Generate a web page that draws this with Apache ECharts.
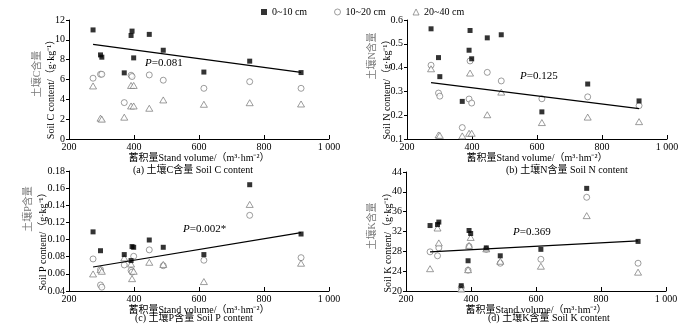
<!DOCTYPE html>
<html>
<head>
<meta charset="utf-8">
<script src="https://cdn.jsdelivr.net/npm/echarts@6.0.0/dist/echarts.min.js"></script>
<style>
  html, body { margin: 0; padding: 0; background: #fff; }
  #chart { width: 700px; height: 326px; }
</style>
</head>
<body>
<div id="chart"></div>
<script>
// 图例 / 土层
const layers = ['0~10 cm', '10~20 cm', '20~40 cm'];
const xTicks = [200, 400, 600, 800, 1000];

// (a) 土壤C  [蓄积量, 含量]
const cTop = [[274, 11.0], [297, 8.48], [301, 8.25], [370, 6.67], [391, 10.44], [394, 10.88], [399, 8.18], [447, 10.55], [490, 8.95], [615, 6.75], [756, 7.85], [914, 6.7]];
const cMid = [[274, 6.13], [297, 6.53], [301, 6.53], [370, 3.67], [391, 6.43], [394, 6.3], [447, 6.46], [490, 5.93], [615, 5.11], [756, 5.78], [914, 5.11]];
const cDeep = [[274, 5.35], [297, 2.1], [301, 2.0], [370, 2.2], [391, 5.4], [399, 5.4], [391, 3.33], [399, 3.33], [447, 3.1], [490, 3.94], [615, 3.5], [756, 3.66], [914, 3.53]];
const cFit = [[274, 9.55], [914, 6.72]];

// (b) 土壤N
const nTop = [[274, 0.563], [297, 0.442], [301, 0.362], [370, 0.258], [391, 0.473], [394, 0.556], [399, 0.437], [447, 0.525], [490, 0.538], [615, 0.214], [756, 0.331], [914, 0.26]];
const nMid = [[274, 0.41], [297, 0.293], [301, 0.28], [370, 0.148], [391, 0.268], [394, 0.428], [399, 0.251], [447, 0.38], [490, 0.344], [615, 0.269], [756, 0.277], [914, 0.24]];
const nDeep = [[274, 0.395], [297, 0.117], [301, 0.115], [370, 0.113], [391, 0.124], [394, 0.377], [399, 0.124], [447, 0.202], [490, 0.297], [615, 0.169], [756, 0.192], [914, 0.173]];
const nFit = [[274, 0.337], [914, 0.228]];

// (c) 土壤P
const pTop = [[274, 0.109], [297, 0.087], [370, 0.0825], [391, 0.0755], [394, 0.0918], [399, 0.091], [447, 0.0995], [490, 0.091], [615, 0.0825], [756, 0.164], [914, 0.1065]];
const pMid = [[274, 0.0774], [297, 0.047], [301, 0.0445], [297, 0.065], [370, 0.0704], [391, 0.064], [394, 0.062], [399, 0.0805], [447, 0.088], [490, 0.0695], [615, 0.0759], [756, 0.1283], [914, 0.0789]];
const pDeep = [[274, 0.0599], [297, 0.0649], [301, 0.063], [370, 0.0786], [391, 0.0715], [394, 0.0544], [399, 0.063], [447, 0.0735], [490, 0.071], [615, 0.051], [756, 0.141], [914, 0.0724]];
const pFit = [[274, 0.068], [914, 0.108]];

// (d) 土壤K
const kTop = [[274, 33.2], [297, 33.4], [301, 33.9], [370, 21.07], [391, 26.1], [394, 32.2], [399, 31.6], [447, 28.7], [490, 27.1], [615, 28.4], [756, 40.7], [914, 30.0]];
const kMid = [[274, 27.9], [297, 27.1], [301, 28.7], [370, 20.7], [391, 24.2], [394, 29.0], [447, 28.4], [490, 25.6], [615, 26.4], [756, 38.9], [914, 25.6]];
const kDeep = [[274, 24.5], [297, 32.7], [301, 29.7], [370, 20.4], [391, 24.3], [394, 29.2], [399, 30.8], [447, 28.5], [490, 26.0], [615, 25.0], [756, 35.2], [914, 23.8]];
const kFit = [[274, 27.9], [914, 30.1]];

const serif = '"Liberation Serif", "Noto Sans CJK SC", serif';
const font10 = '10px ' + serif;

const panels = [
  { top: cTop, mid: cMid, deep: cDeep, fit: cFit, min: 0, max: 12, step: 2, dec: 0 },
  { top: nTop, mid: nMid, deep: nDeep, fit: nFit, min: 0.1, max: 0.6, step: 0.1, dec: 1 },
  { top: pTop, mid: pMid, deep: pDeep, fit: pFit, min: 0.04, max: 0.18, step: 0.02, dec: 2 },
  { top: kTop, mid: kMid, deep: kDeep, fit: kFit, min: 20, max: 44, step: 4, dec: 0 }
];

const grids = [
  { left: 69, top: 20, width: 260, height: 119 },
  { left: 407, top: 20, width: 260, height: 119 },
  { left: 69, top: 171, width: 260, height: 120 },
  { left: 406, top: 172, width: 260, height: 119 }
];

// 空心符号: 白底灰边
const hollow = { color: '#fff', borderColor: '#666', borderWidth: 0.8 };

let xAxes = [], yAxes = [], series = [];
panels.forEach(function (p, i) {
  xAxes.push({
    type: 'value', gridIndex: i,
    min: xTicks[0], max: xTicks[xTicks.length - 1], interval: 200,
    name: '蓄积量Stand volume/（m³·hm⁻²）',
    nameLocation: 'middle', nameGap: 14,
    nameTextStyle: { color: '#000', fontSize: 10, fontFamily: serif },
    axisLine: { lineStyle: { color: '#000', width: 1 } },
    axisTick: { inside: true, length: 4, lineStyle: { color: '#000' } },
    axisLabel: {
      color: '#000', fontSize: 10, fontFamily: serif, margin: 3,
      formatter: function (v) { return v === 1000 ? '1 000' : String(v); }
    },
    splitLine: { show: false }
  });
  yAxes.push({
    type: 'value', gridIndex: i,
    min: p.min, max: p.max, interval: p.step,
    axisLine: { show: true, lineStyle: { color: '#000', width: 1 } },
    axisTick: { show: true, length: 3, lineStyle: { color: '#000' } },
    axisLabel: {
      color: '#000', fontSize: 10, fontFamily: serif, margin: 4,
      formatter: function (v) { return v.toFixed(p.dec); }
    },
    splitLine: { show: false }
  });
  series.push(
    { name: layers[0], type: 'scatter', xAxisIndex: i, yAxisIndex: i, data: p.top,
      symbol: 'rect', symbolSize: 5, itemStyle: { color: '#000' }, z: 3 },
    { name: layers[1], type: 'scatter', xAxisIndex: i, yAxisIndex: i, data: p.mid,
      symbol: 'circle', symbolSize: 6, itemStyle: hollow, z: 2 },
    { name: layers[2], type: 'scatter', xAxisIndex: i, yAxisIndex: i, data: p.deep,
      symbol: 'triangle', symbolSize: [7, 6], itemStyle: hollow, z: 2 },
    { type: 'line', xAxisIndex: i, yAxisIndex: i, data: p.fit, symbol: 'none',
      lineStyle: { color: '#000', width: 1.2 }, silent: true, z: 4 }
  );
});

// y轴名称 (两行, 中文灰色)
function yName(x, y, text, color) {
  return { type: 'text', x: x, y: y, rotation: Math.PI / 2,
    style: { text: text, fill: color, font: font10, align: 'center', verticalAlign: 'middle' } };
}
function pText(x, y, val) {
  return { type: 'text', x: x, y: y,
    style: { text: '{i|P}=' + val, fill: '#000', font: '11px ' + serif, verticalAlign: 'middle',
      rich: { i: { fontStyle: 'italic', fontSize: 11, fontFamily: serif } } } };
}
function caption(x, y, text) {
  return { type: 'text', x: x, y: y,
    style: { text: text, fill: '#000', font: font10, verticalAlign: 'middle' } };
}

const graphics = [
  yName(37, 74, '土壤C含量', '#777'), yName(51, 87, 'Soil C content/（g·kg⁻¹）', '#000'),
  yName(372, 56, '土壤N含量', '#777'), yName(387, 87, 'Soil N content/（g·kg⁻¹）', '#000'),
  yName(28, 209, '土壤P含量', '#777'), yName(43, 239, 'Soil P content/（g·kg⁻¹）', '#000'),
  yName(372, 226, '土壤K含量', '#777'), yName(388, 240, 'Soil K content/（g·kg⁻¹）', '#000'),
  pText(145, 63, '0.081'), pText(520, 76, '0.125'), pText(183, 229, '0.002*'), pText(513, 232, '0.369'),
  caption(133, 170, '(a) 土壤C含量 Soil C content'),
  caption(506, 170, '(b) 土壤N含量 Soil N content'),
  caption(135, 318, '(c) 土壤P含量 Soil P content'),
  caption(488, 318, '(d) 土壤K含量 Soil K content')
];

const myChart = echarts.init(document.getElementById('chart'));
myChart.setOption({
  backgroundColor: '#fff',
  animation: false,
  legend: {
    data: layers, left: 256, top: 2,
    itemWidth: 6, itemHeight: 6, itemGap: 27,
    itemStyle: { borderWidth: 0.8 },
    textStyle: { color: '#000', fontSize: 10, fontFamily: serif }
  },
  grid: grids,
  xAxis: xAxes,
  yAxis: yAxes,
  series: series,
  graphic: graphics
});
</script>
</body>
</html>
